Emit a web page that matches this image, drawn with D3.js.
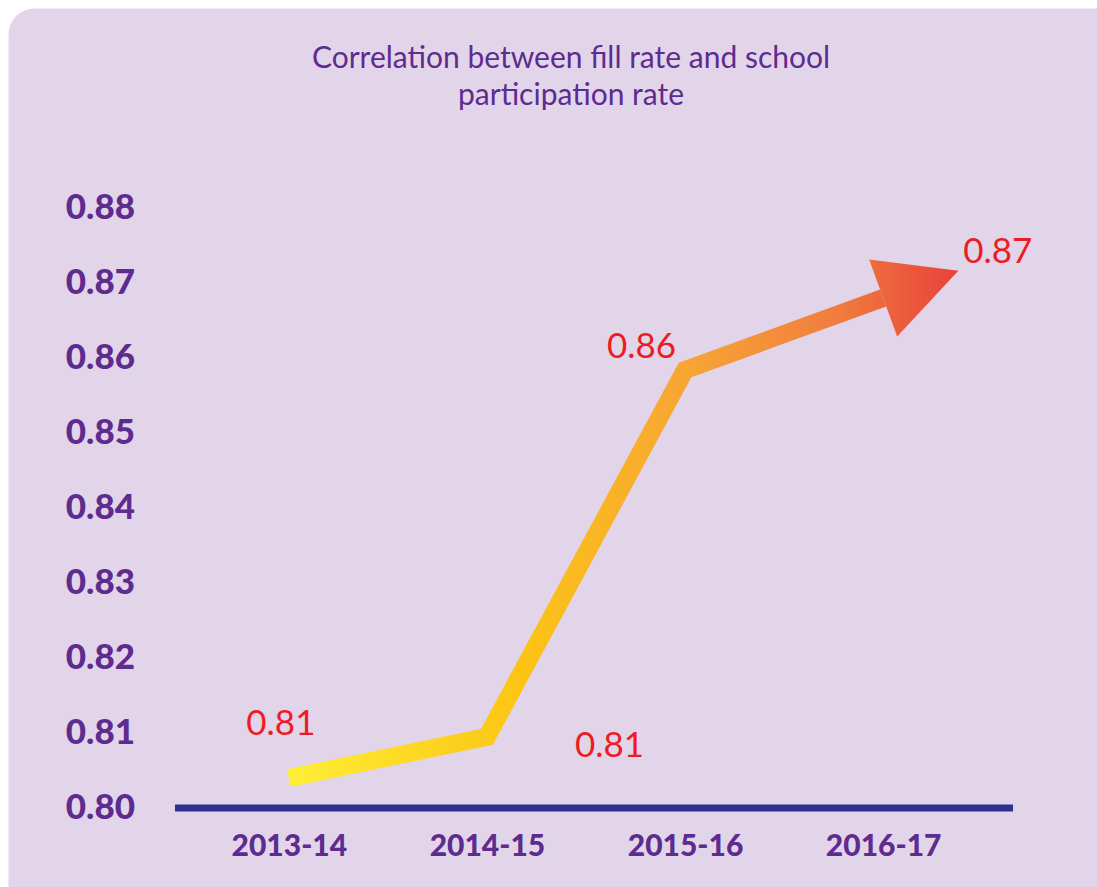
<!DOCTYPE html>
<html>
<head>
<meta charset="utf-8">
<script src="https://cdn.jsdelivr.net/npm/d3@7/dist/d3.min.js"></script>
<style>
  html, body { margin: 0; padding: 0; background: #ffffff; }
  svg { display: block; }
</style>
</head>
<body>
<svg id="chart" width="1097" height="887"></svg>
<script>
/* ---- data ------------------------------------------------------- */
const titleLines  = ["Correlation between fill rate and school", "participation rate"];
const categories  = ["2013-14", "2014-15", "2015-16", "2016-17"];
const correlation = [0.804, 0.8095, 0.8584, 0.868];
const valueLabels = ["0.81", "0.81", "0.86", "0.87"];
const yTicks      = [0.80, 0.81, 0.82, 0.83, 0.84, 0.85, 0.86, 0.87, 0.88];

/* ---- layout ----------------------------------------------------- */
const W = 1097, H = 887;
const purple = "#5e2b8f", red = "#ed1c24", navy = "#2e3192";
const font = "Lato, 'Open Sans', sans-serif";

const svg = d3.select("#chart");

// lavender card
svg.append("rect")
  .attr("x", 8.5).attr("y", 8.5)
  .attr("width", W + 20).attr("height", H + 20)
  .attr("rx", 26)
  .attr("fill", "#e2d5ea");

/* ---- scales ----------------------------------------------------- */
const x = d3.scalePoint(categories, [170, 1002]).padding(0.6);
const y = d3.scaleLinear([0.80, 0.88], [808, 208]);

/* ---- title ------------------------------------------------------ */
svg.append("text")
  .attr("x", 571).attr("y", 68)
  .attr("text-anchor", "middle")
  .attr("font-family", font)
  .attr("font-size", 30)
  .attr("fill", purple)
  .selectAll("tspan")
  .data(titleLines)
  .join("tspan")
    .attr("x", 571)
    .attr("dy", (d, i) => i ? 37 : 0)
    .text(d => d);

/* ---- y axis (labels only) -------------------------------------- */
const yAxis = svg.append("g")
  .attr("transform", "translate(135,0)")
  .call(d3.axisLeft(y).tickValues(yTicks).tickFormat(d3.format(".2f")).tickSize(0).tickPadding(0));
yAxis.select(".domain").remove();
yAxis.selectAll("text")
  .attr("font-family", font)
  .attr("font-weight", 900)
  .attr("font-size", 35)
  .attr("fill", purple)
  .attr("dy", "0.3em");

/* ---- x axis ----------------------------------------------------- */
svg.append("line")
  .attr("x1", 175).attr("x2", 1013)
  .attr("y1", y(0.80)).attr("y2", y(0.80))
  .attr("stroke", navy)
  .attr("stroke-width", 7);

const xAxis = svg.append("g")
  .attr("transform", `translate(0,${y(0.80)})`)
  .call(d3.axisBottom(x).tickSize(0).tickPadding(0));
xAxis.select(".domain").remove();
xAxis.selectAll("text")
  .attr("font-family", font)
  .attr("font-weight", 900)
  .attr("font-size", 30)
  .attr("fill", purple)
  .attr("dy", 48);

/* ---- arrow line ------------------------------------------------- */
const pts = categories.map((c, i) => [x(c), y(correlation[i])]);

// arrowhead from the direction of the last segment
const [ax, ay] = pts[pts.length - 2], [bx, by] = pts[pts.length - 1];
const len = Math.hypot(bx - ax, by - ay);
const ux = (bx - ax) / len, uy = (by - ay) / len;
const headLen = 80, headHalf = 41;
const tip = [bx + ux * headLen, by + uy * headLen];
const head = [
  [bx - uy * headHalf, by + ux * headHalf],
  tip,
  [bx + uy * headHalf, by - ux * headHalf]
];

const grad = svg.append("defs").append("linearGradient")
  .attr("id", "arrowGrad")
  .attr("gradientUnits", "userSpaceOnUse")
  .attr("x1", pts[0][0] - 20).attr("x2", tip[0])
  .attr("y1", 0).attr("y2", 0);
[[0, "#fff23a"], [0.36, "#fcc515"], [0.62, "#f7a336"], [0.82, "#f07e3e"], [1, "#e8413c"]]
  .forEach(([o, c]) => grad.append("stop").attr("offset", o).attr("stop-color", c));

svg.append("path")
  .datum(pts)
  .attr("d", d3.line())
  .attr("fill", "none")
  .attr("stroke", "url(#arrowGrad)")
  .attr("stroke-width", 18)
  .attr("stroke-linejoin", "miter")
  .attr("stroke-linecap", "butt");

svg.append("path")
  .attr("d", d3.line()(head) + "Z")
  .attr("fill", "url(#arrowGrad)");

/* ---- value labels ----------------------------------------------- */
const placement = [
  { dx: -8,  dy: -43, anchor: "middle" },
  { dx: 88,  dy: 20,  anchor: "start"  },
  { dx: -9,  dy: -12, anchor: "end"    },
  { dx: 80,  dy: -35, anchor: "start"  }
];
svg.append("g")
  .selectAll("text")
  .data(valueLabels)
  .join("text")
    .attr("x", (d, i) => pts[i][0] + placement[i].dx)
    .attr("y", (d, i) => pts[i][1] + placement[i].dy)
    .attr("text-anchor", (d, i) => placement[i].anchor)
    .attr("font-family", font)
    .attr("font-size", 35)
    .attr("fill", red)
    .text(d => d);
</script>
</body>
</html>
